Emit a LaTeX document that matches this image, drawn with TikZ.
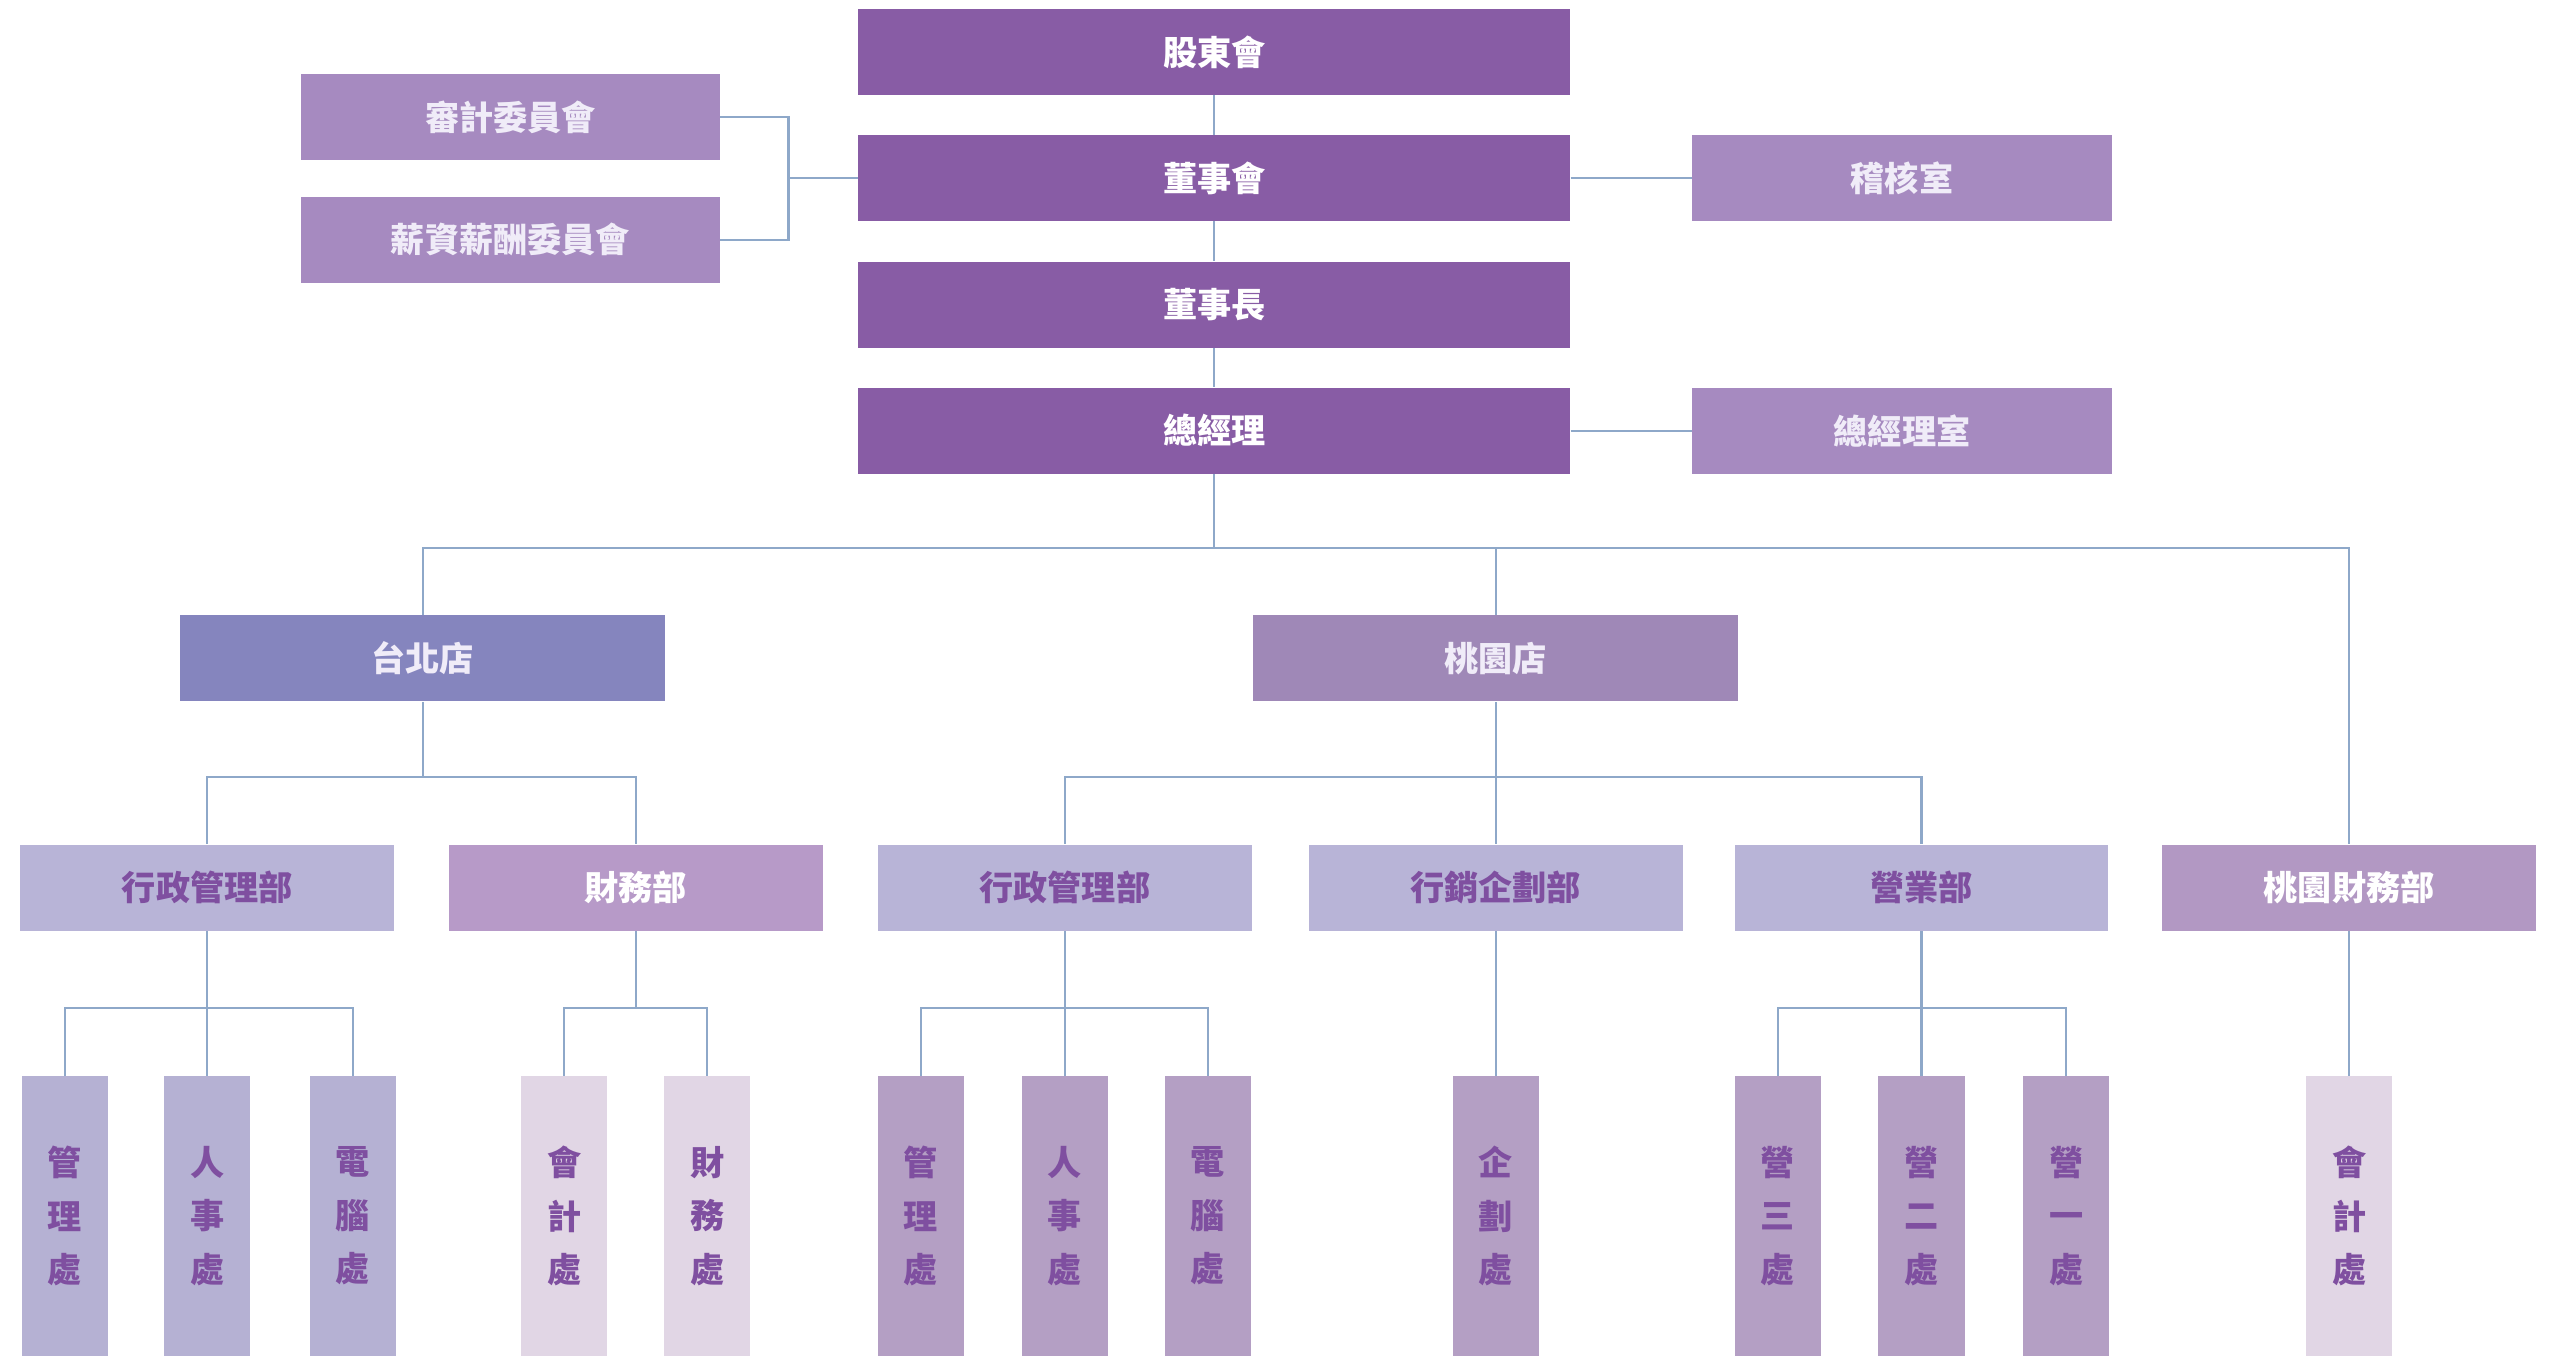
\documentclass[tikz,border=0pt]{standalone}
\usepackage{fontspec}
\setmainfont{Noto Sans CJK TC}
\usepackage{tikz}
\usetikzlibrary{calc}

\definecolor{topc}{RGB}{136,92,165}
\definecolor{sidec}{RGB}{166,138,192}
\definecolor{tpc}{RGB}{133,133,190}
\definecolor{tyc}{RGB}{159,136,183}
\definecolor{admc}{RGB}{184,180,215}
\definecolor{finc}{RGB}{183,154,200}
\definecolor{tyfinc}{RGB}{178,152,195}
\definecolor{unita}{RGB}{181,177,211}
\definecolor{unitb}{RGB}{225,214,229}
\definecolor{unitc}{RGB}{180,159,196}
\definecolor{txtc}{RGB}{127,79,160}
\definecolor{lightc}{RGB}{240,236,248}
\definecolor{linec}{RGB}{142,168,201}

\begin{document}
\begin{tikzpicture}[x=1pt, y=-1pt,
  box/.style = {inner sep=0, font=\fontsize{21}{25}\selectfont\bfseries},
  topbox/.style = {box, fill=topc, text=white, minimum width=438, minimum height=53},
  sidebox/.style = {box, fill=sidec, text=lightc, minimum width=258, minimum height=53},
  storebox/.style = {box, text=lightc, minimum width=298, minimum height=53},
  deptbox/.style = {box, minimum width=230, minimum height=53},
  unitbox/.style = {box, text=txtc, minimum width=53, minimum height=172, align=center,
    font=\fontsize{21}{33}\selectfont\bfseries},
  link/.style = {draw=linec, line width=1.3}]
\useasboundingbox (0, 0) rectangle (1568, 834);
\node[topbox] (sh) at (747, 32) {股東會};
\node[topbox] (board) at (747, 109.5) {董事會};
\node[topbox] (chair) at (747, 187.5) {董事長};
\node[topbox] (gm) at (747, 265) {總經理};
\node[sidebox] (audit) at (314, 72) {審計委員會};
\node[sidebox] (pay) at (314, 147.5) {薪資薪酬委員會};
\node[sidebox] (check) at (1170, 109.5) {稽核室};
\node[sidebox] (gmo) at (1170, 265) {總經理室};
\node[storebox, fill=tpc] (tp) at (260, 405) {台北店};
\node[storebox, fill=tyc] (ty) at (920, 405) {桃園店};
\node[deptbox, fill=admc, text=txtc] (tpadm) at (127.5, 546) {行政管理部};
\node[deptbox, fill=finc, text=white] (tpfin) at (391, 546) {財務部};
\node[deptbox, fill=admc, text=txtc] (tyadm) at (655, 546) {行政管理部};
\node[deptbox, fill=admc, text=txtc] (mkt) at (920, 546) {行銷企劃部};
\node[deptbox, fill=admc, text=txtc] (sales) at (1182, 546) {營業部};
\node[deptbox, fill=tyfinc, text=white] (tyfin) at (1445, 546) {桃園財務部};
\node[unitbox, fill=unita] (u1) at (40, 748) {管\\理\\處};
\node[unitbox, fill=unita] (u2) at (127.5, 748) {人\\事\\處};
\node[unitbox, fill=unita] (u3) at (217, 748) {電\\腦\\處};
\node[unitbox, fill=unitb] (u4) at (347, 748) {會\\計\\處};
\node[unitbox, fill=unitb] (u5) at (435, 748) {財\\務\\處};
\node[unitbox, fill=unitc] (u6) at (566.5, 748) {管\\理\\處};
\node[unitbox, fill=unitc] (u7) at (655, 748) {人\\事\\處};
\node[unitbox, fill=unitc] (u8) at (743, 748) {電\\腦\\處};
\node[unitbox, fill=unitc] (u9) at (920, 748) {企\\劃\\處};
\node[unitbox, fill=unitc] (u10) at (1093.5, 748) {營\\三\\處};
\node[unitbox, fill=unitc] (u11) at (1182, 748) {營\\二\\處};
\node[unitbox, fill=unitc] (u12) at (1271, 748) {營\\一\\處};
\node[unitbox, fill=unitb] (u13) at (1445, 748) {會\\計\\處};
\coordinate (side) at (485, 109.5);
\coordinate (bus) at (747, 337);
\coordinate (tpbus) at (260, 478);
\coordinate (tybus) at (920, 478);
\coordinate (j1) at (127.5, 620);
\coordinate (j2) at (391, 620);
\coordinate (j3) at (655, 620);
\coordinate (j4) at (1182, 620);
\draw[link] (sh) -- (board);
\draw[link] (board) -- (chair);
\draw[link] (chair) -- (gm);
\draw[link] (board) -- (check);
\draw[link] (gm) -- (gmo);
\draw[link] (audit.east) -| (side) |- (pay.east);
\draw[link] (side) -- (board.west);
\draw[link] (gm.south) -- (bus);
\draw[link] (tp.north) |- (bus) -| (tyfin.north);
\draw[link] (ty.north) |- (bus);
\draw[link] (tp.south) -- (tpbus);
\draw[link] (tpadm.north) |- (tpbus) -| (tpfin.north);
\draw[link] (ty.south) -- (mkt.north);
\draw[link] (tyadm.north) |- (tybus) -| (sales.north);
\draw[link] (tpadm.south) -- (u2.north);
\draw[link] (u1.north) |- (j1) -| (u3.north);
\draw[link] (tpfin.south) -- (j2);
\draw[link] (u4.north) |- (j2) -| (u5.north);
\draw[link] (tyadm.south) -- (u7.north);
\draw[link] (u6.north) |- (j3) -| (u8.north);
\draw[link] (mkt.south) -- (u9.north);
\draw[link] (sales.south) -- (u11.north);
\draw[link] (u10.north) |- (j4) -| (u12.north);
\draw[link] (tyfin.south) -- (u13.north);
\end{tikzpicture}
\end{document}
